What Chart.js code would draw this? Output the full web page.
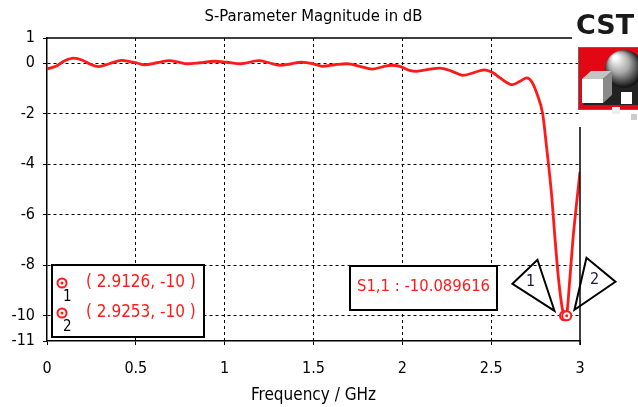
<!DOCTYPE html>
<html>
<head>
<meta charset="utf-8">
<script src="https://cdn.jsdelivr.net/npm/chart.js@4"></script>
<style>
  body { margin: 0; background: #fff; }
  canvas { display: block; }
</style>
</head>
<body>
<canvas id="sparam" width="638" height="407"></canvas>
<script>
// S1,1 magnitude in dB
const freqGHz = [
  0.00, 0.05, 0.10, 0.15, 0.20, 0.25, 0.29, 0.35, 0.42, 0.47,
  0.51, 0.55, 0.62, 0.69, 0.74, 0.79, 0.86, 0.94, 1.01, 1.09,
  1.19, 1.25, 1.31, 1.37, 1.43, 1.50, 1.55, 1.62, 1.69, 1.76,
  1.83, 1.89, 1.94, 1.99, 2.04, 2.08, 2.15, 2.21, 2.28, 2.34,
  2.40, 2.46, 2.51, 2.55, 2.62, 2.67, 2.70, 2.73, 2.76, 2.79,
  2.81, 2.84, 2.86, 2.88, 2.90, 2.912, 2.919, 2.925, 2.94, 2.96,
  2.98, 3.00
];
const s11dB = [
  -0.22, -0.12, 0.10, 0.20, 0.12, -0.06, -0.13, -0.02, 0.11, 0.06,
  0.00, -0.06, 0.02, 0.10, 0.04, -0.02, 0.02, 0.08, 0.04, -0.02,
  0.10, 0.02, -0.08, -0.03, 0.04, -0.02, -0.12, -0.06, -0.02, -0.12,
  -0.23, -0.14, -0.08, -0.13, -0.28, -0.32, -0.24, -0.19, -0.32, -0.48,
  -0.38, -0.26, -0.38, -0.58, -0.85, -0.68, -0.58, -0.75, -1.25, -2.0,
  -3.2, -5.2, -7.0, -8.6, -9.7, -10.02, -10.09, -10.0, -8.8, -7.0,
  -5.6, -4.3
];
const xTicks = [0, 0.5, 1, 1.5, 2, 2.5, 3];
const yTicks = [-11, -10, -8, -6, -4, -2, 0, 1];
const markerFreq = [2.9126, 2.9253];
const markerDb = [-10, -10];
const markerNames = ['1', '2'];
const readout = 'S1,1 : -10.089616';

const FONT = '"DejaVu Sans Condensed", "DejaVu Sans", sans-serif';
const RED = '#ff1a1a';

function drawMarker(ctx, x, y) {
  ctx.save();
  ctx.strokeStyle = RED;
  ctx.fillStyle = '#fff';
  ctx.lineWidth = 2;
  ctx.beginPath();
  ctx.arc(x, y, 4.5, 0, Math.PI * 2);
  ctx.fill();
  ctx.stroke();
  ctx.fillStyle = RED;
  ctx.beginPath();
  ctx.arc(x, y, 1.5, 0, Math.PI * 2);
  ctx.fill();
  ctx.restore();
}

function box(ctx, x, y, w, h) {
  ctx.fillStyle = '#fff';
  ctx.fillRect(x, y, w, h);
  ctx.strokeStyle = '#000';
  ctx.lineWidth = 2;
  ctx.strokeRect(x, y, w, h);
}

function drawLogo(ctx) {
  ctx.save();
  ctx.fillStyle = '#1a1a1a';
  ctx.font = 'bold 27px "DejaVu Sans", sans-serif';
  ctx.textBaseline = 'alphabetic';
  ctx.textAlign = 'left';
  ctx.fillText('CST', 576, 34);

  ctx.fillStyle = '#e30613';
  ctx.fillRect(578, 47, 70, 62);
  ctx.strokeStyle = '#666';
  ctx.lineWidth = 1;
  ctx.strokeRect(578.5, 47.5, 70, 62);

  // dark shadow behind the shapes
  ctx.fillStyle = '#222';
  ctx.beginPath();
  ctx.moveTo(583, 105); ctx.lineTo(638, 105); ctx.lineTo(638, 78); ctx.lineTo(606, 74);
  ctx.closePath(); ctx.fill();

  // sphere
  const g = ctx.createRadialGradient(615, 57, 2, 623, 68, 19);
  g.addColorStop(0, '#ffffff');
  g.addColorStop(0.5, '#a8a8a8');
  g.addColorStop(1, '#151515');
  ctx.fillStyle = g;
  ctx.beginPath();
  ctx.arc(624, 69, 19, 0, Math.PI * 2);
  ctx.fill();

  // cube
  ctx.fillStyle = '#c4c4c4';
  ctx.beginPath();
  ctx.moveTo(582, 79); ctx.lineTo(591, 71); ctx.lineTo(612, 71); ctx.lineTo(603, 79);
  ctx.closePath(); ctx.fill();
  ctx.fillStyle = '#8a8a8a';
  ctx.beginPath();
  ctx.moveTo(603, 79); ctx.lineTo(612, 71); ctx.lineTo(612, 95); ctx.lineTo(603, 103);
  ctx.closePath(); ctx.fill();
  ctx.fillStyle = '#fff';
  ctx.fillRect(582, 79, 21, 24);

  // small cubes
  ctx.fillStyle = '#fff';
  ctx.fillRect(621, 92, 11, 12);
  ctx.fillStyle = '#eee';
  ctx.fillRect(612, 107, 8, 7);
  ctx.fillStyle = '#ccc';
  ctx.fillRect(631, 114, 6, 6);
  ctx.restore();
}

const overlay = {
  id: 'overlay',
  afterDatasetsDraw(chart) {
    const ctx = chart.ctx;
    const a = chart.chartArea;
    const xs = chart.scales.x, ys = chart.scales.y;

    // frame: top line stops at the logo, right line starts below it
    ctx.save();
    ctx.strokeStyle = '#000';
    ctx.lineWidth = 1.5;
    ctx.beginPath();
    ctx.moveTo(a.left, a.top); ctx.lineTo(572, a.top);
    ctx.moveTo(a.right, 127); ctx.lineTo(a.right, a.bottom + 4);
    ctx.stroke();

    // title
    ctx.fillStyle = '#000';
    ctx.font = '16.5px ' + FONT;
    ctx.textAlign = 'center';
    ctx.textBaseline = 'middle';
    ctx.fillText('S-Parameter Magnitude in dB', (a.left + a.right) / 2, 17);

    // marker table
    box(ctx, 52, 265, 152, 72);
    ctx.textAlign = 'left';
    markerFreq.forEach((f, i) => {
      const y = 283 + i * 30;
      drawMarker(ctx, 62, y);
      ctx.fillStyle = '#000';
      ctx.font = '15px ' + FONT;
      ctx.fillText(markerNames[i], 63, y + 14);
      ctx.fillStyle = RED;
      ctx.font = '17px ' + FONT;
      ctx.fillText('( ' + f.toFixed(4) + ', ' + markerDb[i] + ' )', 86, y);
    });

    // readout
    box(ctx, 350, 266, 147, 44);
    ctx.fillStyle = RED;
    ctx.font = '16.5px ' + FONT;
    ctx.textAlign = 'center';
    ctx.fillText(readout, 423.5, 287);

    // marker triangles
    const mx = xs.getPixelForValue(markerFreq[0]);
    const my = ys.getPixelForValue(markerDb[0]);
    const tris = [
      [[-52, -32], [-27, -56], [-10, -5], [-34, -34]],
      [[10, -6], [22, -58], [51, -34], [30, -36]]
    ];
    ctx.strokeStyle = '#000';
    ctx.lineWidth = 2;
    ctx.lineJoin = 'miter';
    tris.forEach((t, i) => {
      ctx.beginPath();
      ctx.moveTo(mx + t[0][0], my + t[0][1]);
      ctx.lineTo(mx + t[1][0], my + t[1][1]);
      ctx.lineTo(mx + t[2][0], my + t[2][1]);
      ctx.closePath();
      ctx.stroke();
      ctx.fillStyle = '#1c1c3c';
      ctx.font = '16px ' + FONT;
      ctx.fillText(markerNames[i], mx + t[3][0], my + t[3][1]);
    });
    markerFreq.forEach((f, i) => drawMarker(ctx, xs.getPixelForValue(f), ys.getPixelForValue(markerDb[i])));

    drawLogo(ctx);
    ctx.restore();
  }
};

const edge = (v, lo, hi) => v === lo || v === hi;

new Chart(document.getElementById('sparam'), {
  type: 'line',
  data: {
    datasets: [{
      label: 'S1,1',
      data: freqGHz.map((f, i) => ({ x: f, y: s11dB[i] })),
      borderColor: RED,
      borderWidth: 2.8,
      pointRadius: 0,
      cubicInterpolationMode: 'monotone'
    }]
  },
  options: {
    responsive: false,
    animation: false,
    devicePixelRatio: 1,
    layout: { padding: { top: 38, right: 58, left: 0, bottom: 0 } },
    plugins: { legend: { display: false }, tooltip: { enabled: false } },
    scales: {
      x: {
        type: 'linear',
        min: 0, max: 3,
        afterFit: s => { s.height = 66; },
        afterBuildTicks: s => { s.ticks = xTicks.map(v => ({ value: v })); },
        grid: {
          color: c => edge(c.tick && c.tick.value, 0, 3) ? 'rgba(0,0,0,0)' : '#000',
          lineWidth: 1,
          tickLength: 4,
          tickColor: '#000'
        },
        border: { display: true, color: '#000', width: 1.5, dash: [3, 3] },
        ticks: {
          color: '#000',
          font: { family: FONT, size: 16 },
          padding: 14,
          maxRotation: 0,
          autoSkip: false,
          callback: v => String(v)
        },
        title: {
          display: true,
          text: 'Frequency / GHz',
          color: '#000',
          font: { family: FONT, size: 17 },
          padding: { top: 0, bottom: 1 }
        }
      },
      y: {
        type: 'linear',
        min: -11, max: 1,
        afterFit: s => { s.width = 47; },
        afterBuildTicks: s => { s.ticks = yTicks.map(v => ({ value: v })); },
        grid: {
          color: c => edge(c.tick && c.tick.value, -11, 1) ? 'rgba(0,0,0,0)' : '#000',
          lineWidth: 1,
          tickLength: 4,
          tickColor: '#000'
        },
        border: { display: true, color: '#000', width: 1.5, dash: [3, 3] },
        ticks: {
          color: '#000',
          font: { family: FONT, size: 16 },
          padding: 8,
          autoSkip: false,
          callback: v => String(v)
        }
      }
    }
  },
  plugins: [overlay]
});
</script>
</body>
</html>
